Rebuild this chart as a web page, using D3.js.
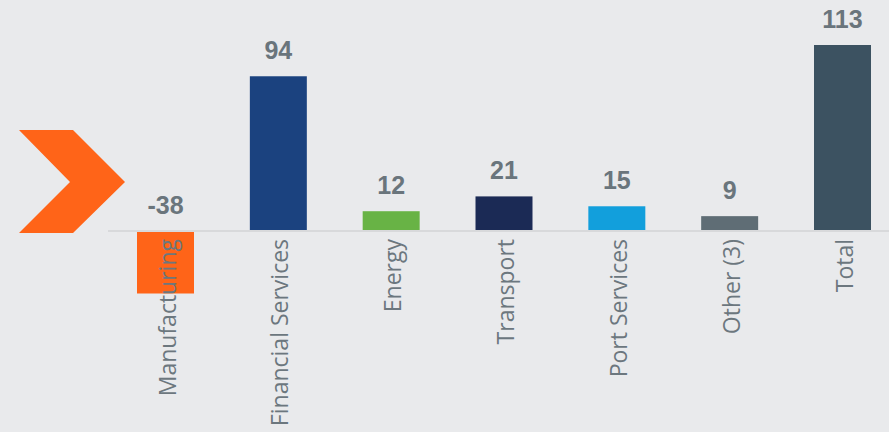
<!DOCTYPE html>
<html><head><meta charset="utf-8">
<script src="https://cdn.jsdelivr.net/npm/d3@7"></script>
<style>html,body{margin:0;padding:0;background:#e9eaec;}svg{display:block;}
.cat{font-family:'Open Sans','Noto Sans',sans-serif;}
.val{font-family:'Liberation Sans',Arial,sans-serif;font-weight:bold;}</style>
</head><body>
<script>
const categories = ["Manufacturing","Financial Services","Energy","Transport","Port Services","Other (3)","Total"];
const values = [-38, 94, 12, 21, 15, 9, 113];
const labels = ["-38","94","12","21","15","9","113"];
const colors = ["#ff6418","#1b427f","#68b345","#1b2a55","#129fdc","#5f6d75","#3c5261"];

const W = 889, H = 432;
const svg = d3.select("body").append("svg").attr("width", W).attr("height", H);
svg.append("rect").attr("width", W).attr("height", H).attr("fill", "#e9eaec");

// chevron decoration
svg.append("path").attr("d", "M19,130 L73,130 L125,182 L73,233 L19,233 L70,182 Z").attr("fill", "#ff6418");

const step = (842.5 - 165.5) / 6;
const x = d3.scaleBand().domain(categories).range([165.5 - step/2, 842.5 + step/2]).paddingInner(0.495).paddingOuter(0.2475);
const y = d3.scaleLinear().domain([-38, 113]).range([293.5, 45]);

const data = categories.map((c, i) => ({c, v: values[i], l: labels[i], col: colors[i]}));

svg.selectAll("rect.bar").data(data).enter().append("rect").attr("class","bar")
  .attr("x", d => x(d.c)).attr("width", x.bandwidth())
  .attr("y", d => y(Math.max(0, d.v))).attr("height", d => Math.abs(y(d.v) - y(0)))
  .attr("fill", d => d.col);

svg.append("line").attr("x1", 108).attr("x2", W).attr("y1", y(0)).attr("y2", y(0))
  .attr("stroke", "#d8d9db").attr("stroke-width", 2);

svg.selectAll("text.val").data(data).enter().append("text").attr("class","val")
  .attr("x", d => x(d.c) + x.bandwidth()/2)
  .attr("y", d => y(Math.max(0, d.v)) - 17)
  .attr("text-anchor", "middle")
  .attr("font-size", 25).attr("fill", "#6a757c")
  .text(d => d.l);

svg.selectAll("text.cat").data(data).enter().append("text").attr("class","cat")
  .attr("transform", d => `translate(${x(d.c) + x.bandwidth()/2 + 1},${y(0) + 8}) rotate(-90)`)
  .attr("text-anchor", "end").attr("dominant-baseline", "central")
  .attr("font-size", 23).attr("fill", "#6c777e")
  .text(d => d.c);
</script>
</body></html>
